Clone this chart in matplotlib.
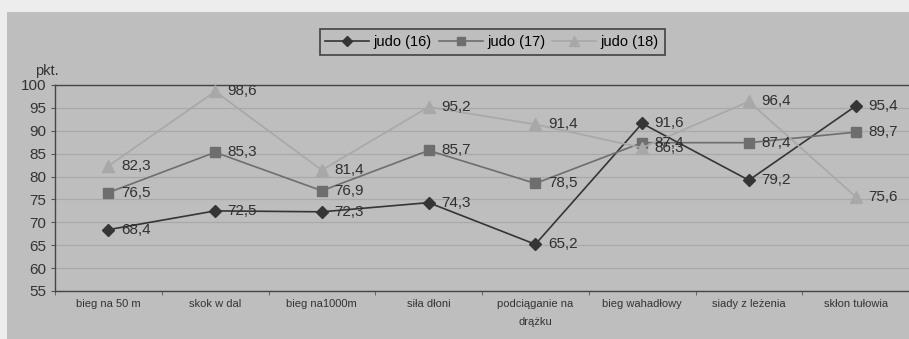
import matplotlib.pyplot as plt
import matplotlib.patches as mpatches
import numpy as np

plt.rcParams['font.family'] = ['Liberation Sans', 'DejaVu Sans']

categories = ['bieg na 50 m', 'skok w dal', 'bieg na1000m', 'siła dłoni',
              'podciąganie na\ndrążku', 'bieg wahadłowy', 'siady z leżenia', 'skłon tułowia']
judo16 = [68.4, 72.5, 72.3, 74.3, 65.2, 91.6, 79.2, 95.4]
judo17 = [76.5, 85.3, 76.9, 85.7, 78.5, 87.4, 87.4, 89.7]
judo18 = [82.3, 98.6, 81.4, 95.2, 91.4, 86.3, 96.4, 75.6]
series = [('judo (16)', judo16, '#353535', 'D', 6.5),
          ('judo (17)', judo17, '#6e6e6e', 's', 7),
          ('judo (18)', judo18, '#a8a8a8', '^', 8)]

bg = '#bebebe'
fig = plt.figure(figsize=(9.09, 3.39), dpi=100, facecolor='#ededed')
fig.patches.append(mpatches.Rectangle((7 / 909, 0), 1, 1 - 12 / 339, transform=fig.transFigure,
                                      facecolor=bg, edgecolor='none', zorder=-5))
ax = fig.add_axes([55 / 909, 1 - 291 / 339, 1 - 55 / 909, (291 - 85) / 339])
ax.set_facecolor(bg)

x = np.arange(len(categories))
handles = []
for name, vals, col, mk, ms in series:
    h, = ax.plot(x, vals, color=col, lw=1.2, marker=mk, markersize=ms,
                 markeredgecolor=col, label=name, zorder=3)
    handles.append(h)
    for xi, v in zip(x, vals):
        ax.annotate(f'{v:.1f}'.replace('.', ','), (xi, v), xytext=(9, 0),
                    textcoords='offset points', va='center', ha='left',
                    fontsize=11, color='#303030', zorder=4)

ax.set_xlim(-0.5, 7.5)
ax.set_ylim(55, 100)
ax.set_yticks(range(55, 101, 5))
ax.yaxis.grid(True, color='#a9a9a9', lw=0.9)
ax.set_axisbelow(True)
ax.set_xticks(x)
ax.set_xticklabels(categories, fontsize=8, color='#333333', linespacing=1.9)
ax.set_xticks(np.arange(-0.5, 8, 1), minor=True)
ax.tick_params(axis='x', which='major', length=0, pad=6)
ax.tick_params(axis='x', which='minor', length=3, color='#555555')
ax.tick_params(axis='y', length=3, labelsize=11, labelcolor='#333333', color='#555555')
for s in ['left', 'bottom', 'top']:
    ax.spines[s].set_color('#444444')
    ax.spines[s].set_linewidth(1.0)
ax.spines['right'].set_visible(False)

fig.text(35 / 909, 1 - 71 / 339, 'pkt.', fontsize=10.5, color='#333333', ha='left', va='center')

leg = fig.legend(handles=handles, loc='center', bbox_to_anchor=(492 / 909, 1 - 42 / 339),
                 ncol=3, frameon=True, fancybox=False, fontsize=10.5, handlelength=3.0,
                 handletextpad=0.3, columnspacing=0.5, borderpad=0.4, markerscale=0.85)
leg.get_frame().set_edgecolor('#222222')
leg.get_frame().set_facecolor(bg)
leg.get_frame().set_linewidth(1.2)

fig.savefig('out.png', dpi=100, facecolor=fig.get_facecolor())
